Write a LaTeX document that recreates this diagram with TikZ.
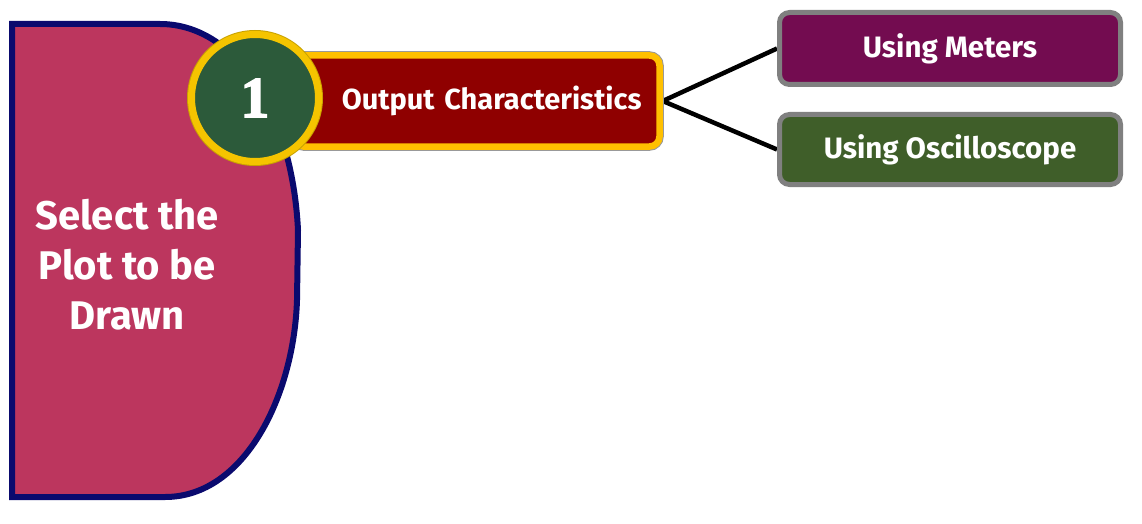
\documentclass[tikz,border=0pt]{standalone}
\usepackage{fontspec}
\setmainfont{Fira Sans}
\newfontfamily\numfont{Liberation Serif}[BoldFeatures={FakeBold=2.5}]
\usetikzlibrary{
  positioning,
  backgrounds
}
\definecolor{plotred}{HTML}{BC365E}
\definecolor{navyline}{HTML}{0A0A6E}
\definecolor{ringgold}{HTML}{F5C400}
\definecolor{ringedge}{HTML}{C9A200}
\definecolor{numgreen}{HTML}{2C5A3A}
\definecolor{boxred}{HTML}{8F0000}
\definecolor{boxgold}{HTML}{FFC000}
\definecolor{meterpurple}{HTML}{730C50}
\definecolor{scopegreen}{HTML}{3F5E29}
\definecolor{framegray}{HTML}{808080}
\tikzset{
  leaf/.style={rectangle,rounded corners=10pt,draw=framegray,line width=5pt,
    minimum width=341pt,text=white,font=\bfseries\fontsize{29.5}{34}\selectfont},
  link/.style={line width=4.5pt,black}
}
\begin{document}
\begin{tikzpicture}[x=1pt,y=-1pt]
  \useasboundingbox (0,0) rectangle (1142,524);
  % left panel
  \draw[navyline,line width=6pt,fill=plotred]
    (12,24) -- (160,24) .. controls (235,24) and (292,110) .. (298,230)
    -- (297,300) .. controls (294,395) and (245,497) .. (165,497)
    -- (12,497) -- cycle;
  \node[text=white,align=center,font=\bfseries\fontsize{40}{50}\selectfont]
    (plot) at (127,265) {Select the\\Plot to be\\Drawn};
  % main box and number
  \node[rectangle,rounded corners=10pt,fill=boxred,
        preaction={draw=framegray!80,line width=8.5pt,rounded corners=10pt},
        draw=boxgold,line width=6.5pt,
        minimum width=366pt,minimum height=91pt,inner sep=0pt,
        text width=330pt,align=right,text=white,
        font=\bfseries\fontsize{29}{34}\selectfont]
    (outchar) at (476.5,101) {Output Characteristics};
  \node[circle,fill=numgreen,
        preaction={draw=ringedge,line width=9pt},
        draw=ringgold,line width=7pt,minimum size=127pt,inner sep=0pt,
        text=white,font=\numfont\bfseries\fontsize{58}{60}\selectfont]
    (num) at (255,98) {1};
  % ways of plotting
  \node[leaf,fill=meterpurple,minimum height=72pt] (meters) at (950,48.5) {Using Meters};
  \node[leaf,fill=scopegreen,minimum height=70pt] (scope) at (950,149.5) {Using Oscilloscope};
  \begin{scope}[on background layer]
    \foreach \v in {meters,scope}
      \draw[link] (outchar.east) -- (\v.west);
  \end{scope}
\end{tikzpicture}
\end{document}
